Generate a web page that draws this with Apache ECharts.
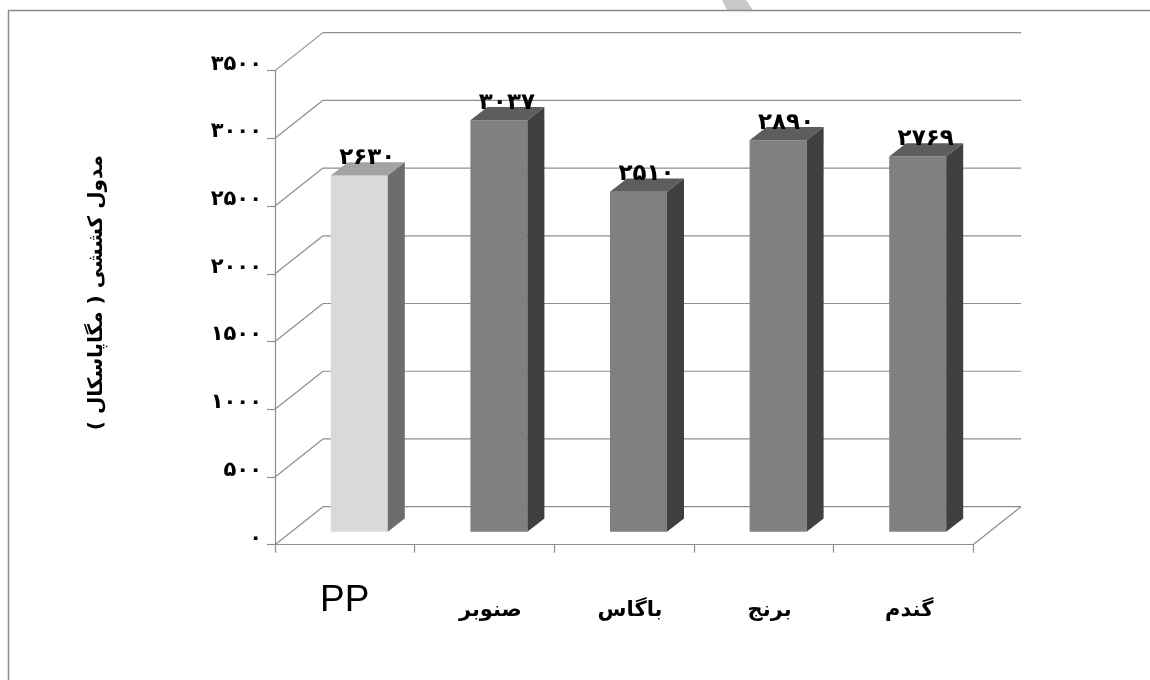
<!DOCTYPE html>
<html><head><meta charset="utf-8">
<style>html,body{margin:0;padding:0;background:#fff}#c{width:1150px;height:680px}</style>
<script src="https://cdn.jsdelivr.net/npm/echarts@6/dist/echarts.min.js"></script>
</head><body><div id="c"></div>
<script>
const categories = ['PP', 'صنوبر', 'باگاس', 'برنج', 'گندم'];
const values = [2630, 3037, 2510, 2890, 2769];
const valueLabels = ['۲۶۳۰', '۳۰۳۷', '۲۵۱۰', '۲۸۹۰', '۲۷۶۹'];
const yTicks = [0, 500, 1000, 1500, 2000, 2500, 3000, 3500];
const yTickLabels = ['۰', '۵۰۰', '۱۰۰۰', '۱۵۰۰', '۲۰۰۰', '۲۵۰۰', '۳۰۰۰', '۳۵۰۰'];
const yTitle = 'مدول کششی ( مگاپاسکال )';

const FA = '"DejaVu Sans", serif';
const LINE = '#8e8e8e';
const WALL = {dx: 48, dy: -38};
const BAR = {dx: 17, dy: -13.3, shift: 14.5, w: 57, lift: 13};
const chart = echarts.init(document.getElementById('c'), null, {renderer: 'canvas'});

function wallItem(params, api) {
  const v = api.value(0);
  const left = api.coord([0, v]);
  const band = api.size([1, 0])[0];
  const x0 = left[0] - band / 2;
  const x1 = x0 + band * categories.length;
  const y = left[1];
  const style = {stroke: LINE, lineWidth: 1.2, fill: null};
  const children = [
    {type: 'line', shape: {x1: x0, y1: y, x2: x0 + WALL.dx, y2: y + WALL.dy}, style},
    {type: 'line', shape: {x1: x0 + WALL.dx, y1: y + WALL.dy, x2: x1 + WALL.dx, y2: y + WALL.dy}, style}
  ];
  if (v === 0) children.push({type: 'line', shape: {x1: x1, y1: y, x2: x1 + WALL.dx, y2: y + WALL.dy}, style});
  return {type: 'group', children};
}

function barItem(params, api) {
  const i = api.value(0);
  const top = api.coord([i, api.value(1)]);
  const base = api.coord([i, 0]);
  const xl = top[0] + BAR.shift - BAR.w / 2, xr = xl + BAR.w;
  const yBot = base[1] - BAR.lift;
  const yF = top[1] - BAR.lift;
  const pal = i === 0 ? ['#d9d9d9', '#a3a3a3', '#6d6d6d'] : ['#808080', '#5d5d5d', '#404040'];
  return {type: 'group', children: [
    {type: 'rect', shape: {x: xl, y: yF, width: BAR.w, height: yBot - yF}, style: {fill: pal[0]}},
    {type: 'polygon', shape: {points: [[xl, yF], [xr, yF], [xr + BAR.dx, yF + BAR.dy], [xl + BAR.dx, yF + BAR.dy]]}, style: {fill: pal[1]}},
    {type: 'polygon', shape: {points: [[xr, yF], [xr + BAR.dx, yF + BAR.dy], [xr + BAR.dx, yBot + BAR.dy], [xr, yBot]]}, style: {fill: pal[2]}},
    {type: 'text', z2: 10, style: {text: valueLabels[i], x: (xl + xr) / 2 + 8, y: yF - 17.5, align: 'center', verticalAlign: 'middle',
      fill: '#000', fontFamily: FA, fontWeight: 'bold', fontSize: 23}}
  ]};
}

chart.setOption({
  animation: false,
  backgroundColor: '#fff',
  graphic: [
    {type: 'rect', silent: true, z: -1, shape: {x: 8.5, y: 10.5, width: 1300, height: 800}, style: {fill: 'none', stroke: '#8c8c8c', lineWidth: 1.5}},
    {type: 'polygon', silent: true, z: -2, shape: {points: [[722, 0], [746, 0], [753, 10], [727, 10]]}, style: {fill: '#c8c8c8'}}
  ],
  grid: {left: 275, right: 177, top: 70.6, bottom: 135.3, containLabel: false},
  xAxis: {type: 'category', data: categories,
    axisLine: {lineStyle: {color: LINE, width: 1.2}},
    axisTick: {show: true, length: 8, alignWithLabel: false, lineStyle: {color: LINE, width: 1.2}},
    splitLine: {show: false},
    axisLabel: {margin: 36, interval: 0, formatter: v => v === 'PP' ? '{en|PP}' : '{fa|' + v + '}',
      rich: {en: {fontFamily: '"Liberation Sans"', fontSize: 37, color: '#000', lineHeight: 40},
             fa: {fontFamily: FA, fontWeight: 'bold', fontSize: 21, color: '#000', lineHeight: 40, padding: [20, 0, 0, 12]}}}
  },
  yAxis: {type: 'value', min: 0, max: 3500, interval: 500,
    name: yTitle, nameLocation: 'middle', nameGap: 168, nameRotate: 90,
    nameTextStyle: {fontFamily: FA, fontWeight: 'bold', fontSize: 20, color: '#000', padding: [0, 0, 0, 30]},
    axisLine: {show: true, lineStyle: {color: LINE, width: 1.2}},
    axisTick: {show: true, length: 8, lineStyle: {color: LINE, width: 1.2}},
    splitLine: {show: false},
    axisLabel: {margin: 13, color: '#000', fontFamily: FA, fontWeight: 'bold', fontSize: 21, verticalAlign: 'bottom', lineHeight: 13,
      formatter: v => yTickLabels[yTicks.indexOf(v)]}
  },
  series: [
    {type: 'custom', name: 'wall', coordinateSystem: 'cartesian2d', renderItem: wallItem, data: yTicks.map(v => [v]), encode: {y: 0}, silent: true, z: 1},
    {type: 'custom', name: 'مدول کششی', coordinateSystem: 'cartesian2d', renderItem: barItem, data: values.map((v, i) => [i, v]), encode: {x: 0, y: 1}, clip: false, z: 2}
  ]
});
</script></body></html>
